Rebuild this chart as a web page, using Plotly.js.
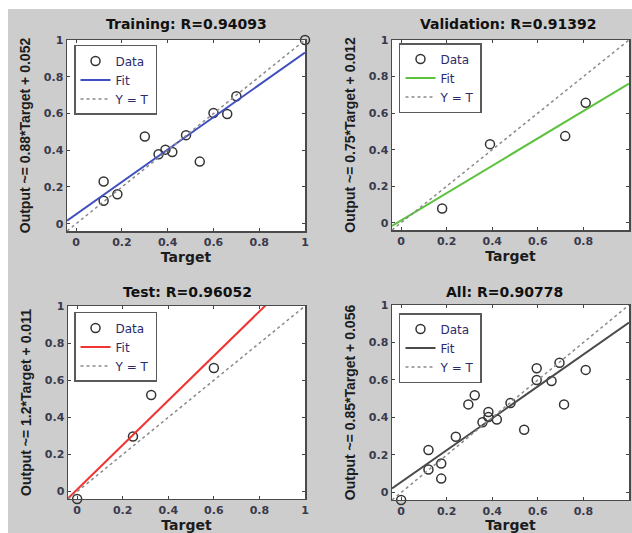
<!DOCTYPE html>
<html>
<head>
<meta charset="utf-8">
<script src="https://cdn.plot.ly/plotly-3.0.1.min.js"></script>
<style>
  html, body { margin: 0; padding: 0; background: #ffffff; width: 632px; height: 533px; overflow: hidden; }
  #chart { position: absolute; left: 8px; top: 9px; width: 624px; height: 524px; }
</style>
</head>
<body>
<div id="chart"></div>
<script>
// ---- data ----
const panelNames = ["Training", "Validation", "Test", "All"];
const rValues = ["0.94093", "0.91392", "0.96052", "0.90778"];
const fitSlope = [0.88, 0.75, 1.2, 0.85];
const fitIntercept = [0.052, 0.012, 0.011, 0.056];
const fitColors = ["#3f4fbf", "#5cc23c", "#f03434", "#4a4a4a"];

const trainTarget = [0.12, 0.12, 0.18, 0.30, 0.36, 0.39, 0.42, 0.48, 0.54, 0.60, 0.66, 0.70, 1.00];
const trainOutput = [0.23, 0.125, 0.16, 0.475, 0.378, 0.403, 0.39, 0.482, 0.338, 0.603, 0.597, 0.694, 1.00];

const valTarget = [0.18, 0.39, 0.72, 0.81];
const valOutput = [0.078, 0.43, 0.474, 0.656];

const testTarget = [0.00, 0.245, 0.325, 0.60];
const testOutput = [-0.04, 0.297, 0.52, 0.666];

const allTarget = [0.00, 0.12, 0.12, 0.176, 0.176, 0.24, 0.295, 0.323, 0.357, 0.383, 0.383, 0.42, 0.48, 0.54, 0.595, 0.595, 0.66, 0.695, 0.715, 0.81];
const allOutput = [-0.04, 0.227, 0.123, 0.155, 0.074, 0.297, 0.47, 0.519, 0.375, 0.429, 0.402, 0.389, 0.477, 0.335, 0.663, 0.60, 0.595, 0.692, 0.47, 0.654];

const axisLimits = [-0.04, 1];
const tickValues = [0, 0.2, 0.4, 0.6, 0.8, 1];
const tickLabels = ["0", "0.2", "0.4", "0.6", "0.8", "1"];

const targets = [trainTarget, valTarget, testTarget, allTarget];
const outputs = [trainOutput, valOutput, testOutput, allOutput];

// ---- layout geometry ----
const xDomains = [[0.0946, 0.4760], [0.6154, 0.9952], [0.0962, 0.4760], [0.6154, 0.9952]];
const yDomains = [[0.5763, 0.9408], [0.5782, 0.9408], [0.0649, 0.4332], [0.0630, 0.4351]];
const legendPos = [[0.1058, 0.9313], [0.6266, 0.9351], [0.1058, 0.4218], [0.6266, 0.4198]];
const titlePos = [[0.2853, 0.9714], [0.8013, 0.9714], [0.2869, 0.4599], [0.795, 0.4599]];

const traces = [];
const layout = {
  width: 624, height: 524,
  margin: {l: 0, r: 0, t: 0, b: 0},
  paper_bgcolor: "#cdcdcd",
  plot_bgcolor: "#ffffff",
  showlegend: true,
  annotations: []
};

for (let i = 0; i < 4; i++) {
  const sfx = i === 0 ? "" : String(i + 1);
  const xa = "x" + sfx, ya = "y" + sfx;
  const leg = "legend" + sfx;

  traces.push({
    x: targets[i], y: outputs[i], xaxis: xa, yaxis: ya,
    type: "scatter", mode: "markers", name: "Data", legend: leg,
    cliponaxis: false,
    marker: {symbol: "circle-open", size: 9, color: "#333333", line: {width: 1.5}}
  });
  traces.push({
    x: axisLimits, y: axisLimits.map(t => fitSlope[i] * t + fitIntercept[i]),
    xaxis: xa, yaxis: ya, type: "scatter", mode: "lines", name: "Fit", legend: leg,
    line: {color: fitColors[i], width: 2}
  });
  traces.push({
    x: axisLimits, y: axisLimits, xaxis: xa, yaxis: ya,
    type: "scatter", mode: "lines", name: "Y = T", legend: leg,
    line: {color: "#8a8a8a", width: 1.5, dash: "3px,3px"}
  });

  const common = {
    range: axisLimits,
    tickvals: tickValues, ticktext: tickLabels,
    ticks: "inside", ticklen: 3, tickwidth: 1, tickcolor: "#444444",
    showline: true, linecolor: "#4a4a4a", linewidth: 1.5, mirror: "ticks",
    showgrid: false, zeroline: false,
    tickfont: {family: "DejaVu Sans", size: 11, color: "#3a3a4c", weight: "bold"}
  };
  layout["xaxis" + sfx] = Object.assign({}, common, {
    domain: xDomains[i], anchor: ya,
    title: {text: "Target", standoff: 2, font: {family: "DejaVu Sans", size: 14, color: "#1c1c1c", weight: "bold"}}
  });
  layout["yaxis" + sfx] = Object.assign({}, common, {
    domain: yDomains[i], anchor: xa,
    title: {text: "Output ~= " + fitSlope[i] + "*Target + " + fitIntercept[i], standoff: 10,
            font: {family: "Liberation Sans", size: 14, color: "#1c1c1c", weight: "bold"}}
  });
  layout[leg] = {
    x: legendPos[i][0], y: legendPos[i][1], xanchor: "left", yanchor: "top",
    xref: "paper", yref: "paper",
    bgcolor: "#ffffff", bordercolor: "#5a5a5a", borderwidth: 1.5,
    font: {family: "DejaVu Sans", size: 12, color: "#2b2b6b"},
    tracegroupgap: 0, itemwidth: 30, traceorder: "normal"
  };
  layout.annotations.push({
    text: panelNames[i] + ": R=" + rValues[i],
    xref: "paper", yref: "paper", x: titlePos[i][0], y: titlePos[i][1],
    xanchor: "center", yanchor: "middle", showarrow: false,
    font: {family: "DejaVu Sans", size: 14, color: "#111111", weight: "bold"}
  });
}

Plotly.newPlot("chart", traces, layout, {displayModeBar: false, staticPlot: true});
</script>
</body>
</html>
